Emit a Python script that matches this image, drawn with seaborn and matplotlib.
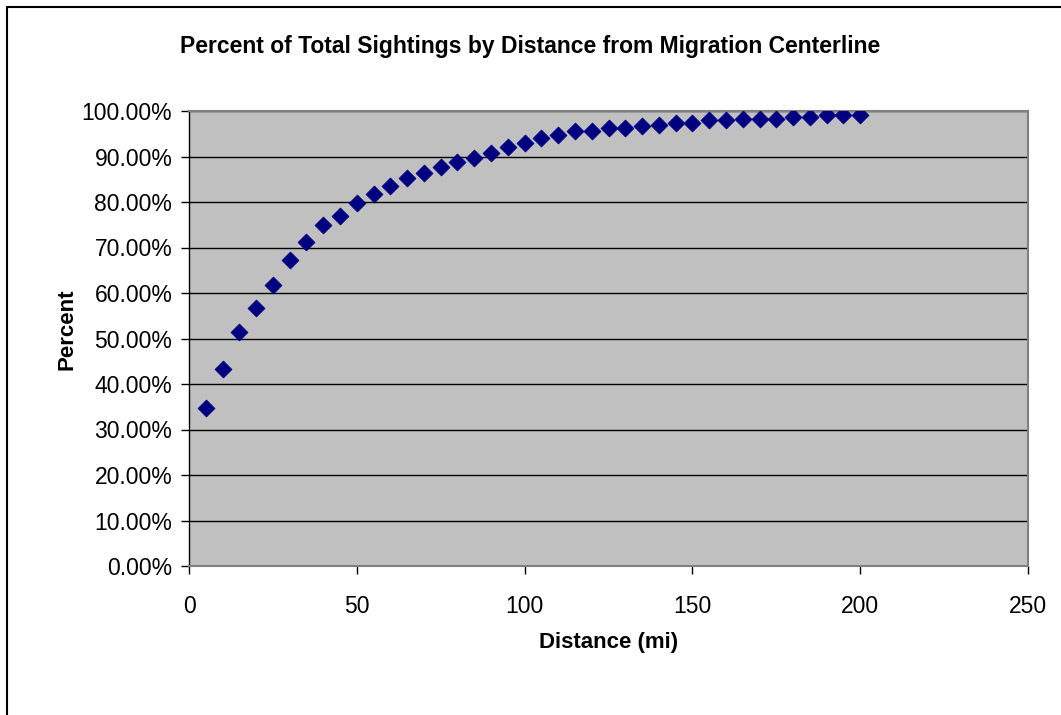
import seaborn as sns
import matplotlib.pyplot as plt
import matplotlib.ticker as mticker
from matplotlib.lines import Line2D
import pandas as pd

# Values
distance = [5, 10, 15, 20, 25, 30, 35, 40, 45, 50,
            55, 60, 65, 70, 75, 80, 85, 90, 95, 100,
            105, 110, 115, 120, 125, 130, 135, 140, 145, 150,
            155, 160, 165, 170, 175, 180, 185, 190, 195, 200]
percent = [34.8, 43.2, 51.4, 56.8, 61.8, 67.2, 71.3, 74.9, 77.0, 79.7,
           81.8, 83.6, 85.3, 86.3, 87.7, 88.7, 89.7, 90.8, 92.1, 92.9,
           94.0, 94.8, 95.5, 95.7, 96.2, 96.2, 96.7, 96.9, 97.3, 97.3,
           98.0, 98.0, 98.3, 98.3, 98.3, 98.6, 98.6, 99.1, 99.1, 99.1]

df = pd.DataFrame({'Distance': distance, 'Percent': [p / 100 for p in percent]})

sns.set_style('white')
plt.rcParams['font.family'] = ['Liberation Sans', 'DejaVu Sans']
plt.rcParams['text.color'] = 'black'
plt.rcParams['axes.labelcolor'] = 'black'
plt.rcParams['xtick.color'] = 'black'
plt.rcParams['ytick.color'] = 'black'

fig = plt.figure(figsize=(10.61, 7.15), dpi=100)
ax = fig.add_axes([189 / 1061, 1 - 566 / 715, (1028 - 189) / 1061, (566 - 111) / 715])
ax.set_facecolor('#C0C0C0')

sns.scatterplot(x='Distance', y='Percent', data=df, ax=ax, marker='D', s=75,
                color='#000080', edgecolor='#000080', linewidth=0.5, zorder=3)

ax.set_xlim(0, 250)
ax.set_ylim(0, 1.0)
ax.set_xticks(range(0, 251, 50))
ax.set_yticks([i / 10 for i in range(11)])
ax.yaxis.set_major_formatter(mticker.FuncFormatter(lambda v, _: f'{v * 100:.2f}%'))
ax.grid(axis='y', color='black', linewidth=1.0, zorder=1)
ax.set_axisbelow(True)

for side in ['top', 'right', 'bottom']:
    ax.spines[side].set_color('#808080')
    ax.spines[side].set_linewidth(1.5)
ax.spines['left'].set_color('black')
ax.spines['left'].set_linewidth(1.0)

ax.tick_params(axis='both', which='major', direction='out', length=6, width=1,
               color='black', labelsize=16.5, pad=6, left=True, bottom=True)
ax.tick_params(axis='x', pad=15)

ax.set_xlabel('Distance (mi)', fontsize=16, fontweight='bold')
ax.set_ylabel('Percent', fontsize=16, fontweight='bold')
ax.xaxis.set_label_coords(0.5, -0.169)
ax.yaxis.set_label_coords(-0.146, 0.52)
ax.xaxis.label.set_va('center')
ax.yaxis.label.set_va('center')

fig.text(0.5, 1 - 47 / 715, 'Percent of Total Sightings by Distance from Migration Centerline',
         ha='center', va='center', fontsize=16.5, fontweight='bold')

# outer chart frame (only left and top are visible in the reference)
fig.add_artist(Line2D([7 / 1061, 7 / 1061], [0, 1 - 7 / 715], color='black', linewidth=1.5,
                      transform=fig.transFigure))
fig.add_artist(Line2D([7 / 1061, 1], [1 - 7 / 715, 1 - 7 / 715], color='black', linewidth=1.5,
                      transform=fig.transFigure))

fig.savefig('out.png', dpi=100, facecolor='white')
